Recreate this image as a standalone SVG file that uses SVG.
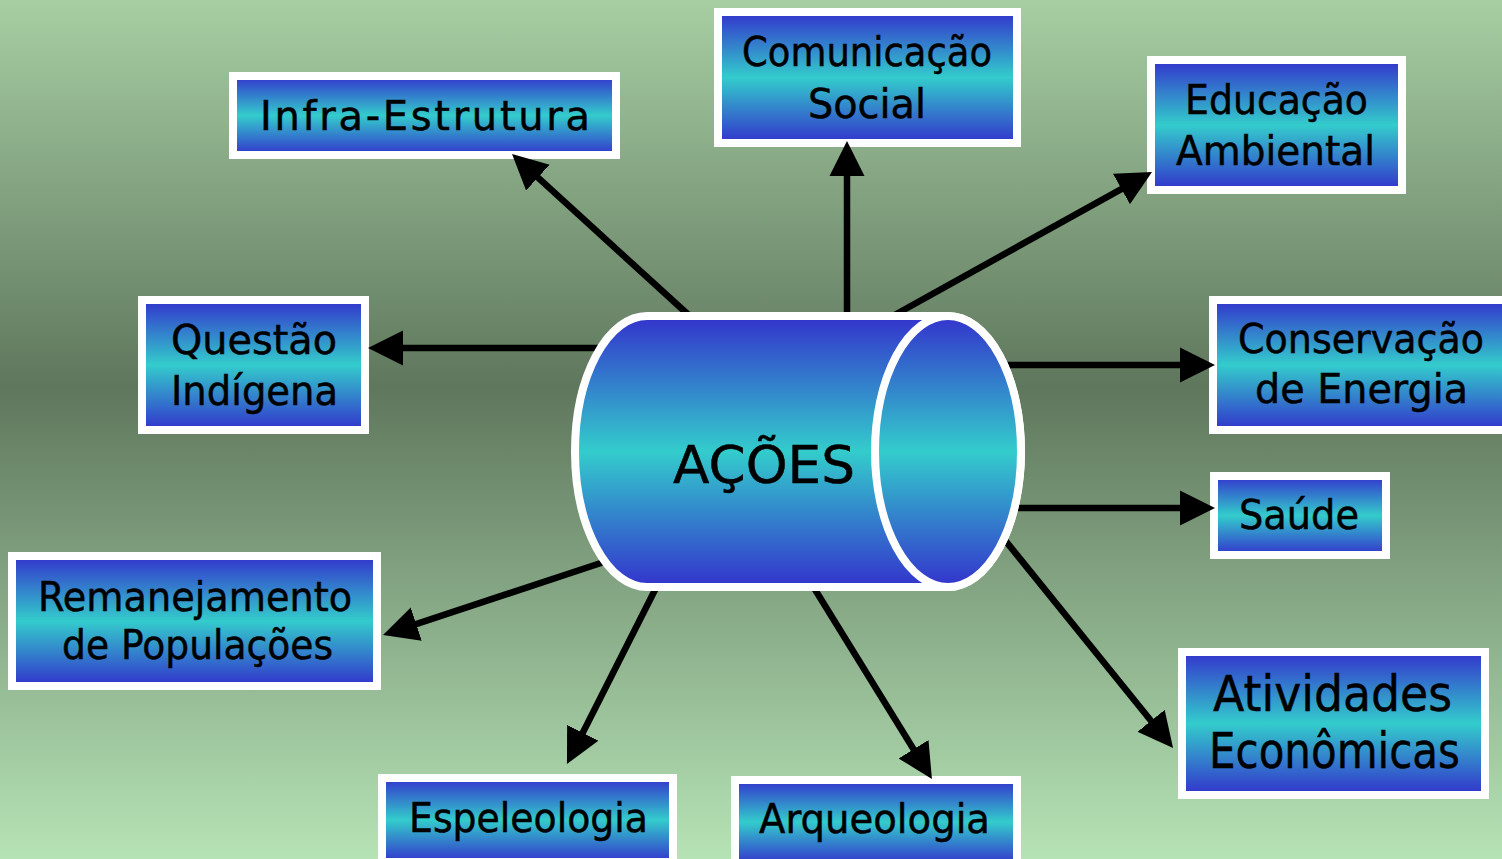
<svg xmlns="http://www.w3.org/2000/svg" width="1502" height="859" viewBox="0 0 1502 859">
<defs>
<linearGradient id="bg" x1="0" y1="0" x2="0" y2="1">
<stop offset="0" stop-color="#a7cea3"/>
<stop offset="0.45" stop-color="#5f775d"/>
<stop offset="1" stop-color="#b6e3b6"/>
</linearGradient>
<linearGradient id="fill" x1="0" y1="0" x2="0" y2="1">
<stop offset="0" stop-color="#3333cc"/>
<stop offset="0.5" stop-color="#33cccc"/>
<stop offset="1" stop-color="#3333cc"/>
</linearGradient>
<marker id="ah" markerUnits="userSpaceOnUse" markerWidth="36" markerHeight="36" viewBox="0 0 36 36" refX="5" refY="18" orient="auto">
<path d="M0,0.5 L35,18 L0,35.5 Z" fill="#000"/>
</marker>
<style>
.box{fill:url(#fill);stroke:#fff;stroke-width:8}
.lbl{font-family:"DejaVu Sans","Liberation Sans",Arial,sans-serif;font-size:40px;fill:#000;stroke:#000;stroke-width:0.5}
.big{font-size:50px}
.con line{stroke:#000;stroke-width:6.5;marker-end:url(#ah)}
</style>
</defs>
<rect x="0" y="0" width="1502" height="859" fill="url(#bg)"/>

<g id="node-infra">
<rect class="box" x="233" y="76" width="383" height="79"/>
<text class="lbl" x="260" y="130" textLength="330" lengthAdjust="spacing">Infra-Estrutura</text>
</g>
<g id="node-comunicacao">
<rect class="box" x="718" y="12" width="299" height="131"/>
<text class="lbl" x="742" y="66" textLength="250" lengthAdjust="spacingAndGlyphs">Comunicação</text>
<text class="lbl" x="808" y="118" textLength="118" lengthAdjust="spacingAndGlyphs">Social</text>
</g>
<g id="node-educacao">
<rect class="box" x="1151" y="60" width="251" height="130"/>
<text class="lbl" x="1185" y="114" textLength="183" lengthAdjust="spacingAndGlyphs">Educação</text>
<text class="lbl" x="1176" y="165" textLength="199" lengthAdjust="spacingAndGlyphs">Ambiental</text>
</g>
<g id="node-questao">
<rect class="box" x="142" y="300" width="223" height="130"/>
<text class="lbl" x="171" y="354" textLength="166" lengthAdjust="spacingAndGlyphs">Questão</text>
<text class="lbl" x="171" y="405" textLength="167" lengthAdjust="spacingAndGlyphs">Indígena</text>
</g>
<g id="node-conservacao">
<rect class="box" x="1213" y="300" width="300" height="130"/>
<text class="lbl" x="1238" y="353" textLength="246" lengthAdjust="spacingAndGlyphs">Conservação</text>
<text class="lbl" x="1255" y="403" textLength="213" lengthAdjust="spacingAndGlyphs">de Energia</text>
</g>
<g id="node-saude">
<rect class="box" x="1214" y="476" width="172" height="79"/>
<text class="lbl" x="1239" y="529" textLength="120" lengthAdjust="spacingAndGlyphs">Saúde</text>
</g>
<g id="node-remanejamento">
<rect class="box" x="12" y="556" width="365" height="130"/>
<text class="lbl" x="38" y="611" textLength="314" lengthAdjust="spacingAndGlyphs">Remanejamento</text>
<text class="lbl" x="62" y="659" textLength="271" lengthAdjust="spacingAndGlyphs">de Populações</text>
</g>
<g id="node-atividades">
<rect class="box" x="1182" y="652" width="303" height="143"/>
<text class="lbl big" x="1213" y="711" textLength="239" lengthAdjust="spacingAndGlyphs">Atividades</text>
<text class="lbl big" x="1209" y="768" textLength="251" lengthAdjust="spacingAndGlyphs">Econômicas</text>
</g>
<g id="node-espeleologia">
<rect class="box" x="382" y="778" width="291" height="84"/>
<text class="lbl" x="409" y="832" textLength="239" lengthAdjust="spacingAndGlyphs">Espeleologia</text>
</g>
<g id="node-arqueologia">
<rect class="box" x="735" y="780" width="282" height="84"/>
<text class="lbl" x="759" y="833" textLength="231" lengthAdjust="spacingAndGlyphs">Arqueologia</text>
</g>

<g id="connectors" class="con">
<line x1="693" y1="319" x2="534.2" y2="174.2"/>
<line x1="847" y1="320" x2="847" y2="171"/>
<line x1="891" y1="317" x2="1125.8" y2="186.6"/>
<line x1="605" y1="348" x2="398" y2="348"/>
<line x1="1000" y1="365" x2="1185" y2="365"/>
<line x1="1012" y1="508" x2="1185" y2="508"/>
<line x1="1000" y1="534" x2="1154.2" y2="724.7"/>
<line x1="811" y1="583" x2="916.2" y2="753.5"/>
<line x1="659" y1="582" x2="580.5" y2="737.2"/>
<line x1="610" y1="560" x2="411.5" y2="625.6"/>
</g>

<g id="node-acoes">
<path class="box" d="M647,316 L948,316 A73,135.5 0 0 1 948,587 L647,587 A72,135.5 0 0 1 647,316 Z"/>
<ellipse class="box" cx="948" cy="451.5" rx="73" ry="135.5"/>
<text class="lbl" x="673" y="483" style="font-size:52px" textLength="182" lengthAdjust="spacingAndGlyphs">AÇÕES</text>
</g>
</svg>
